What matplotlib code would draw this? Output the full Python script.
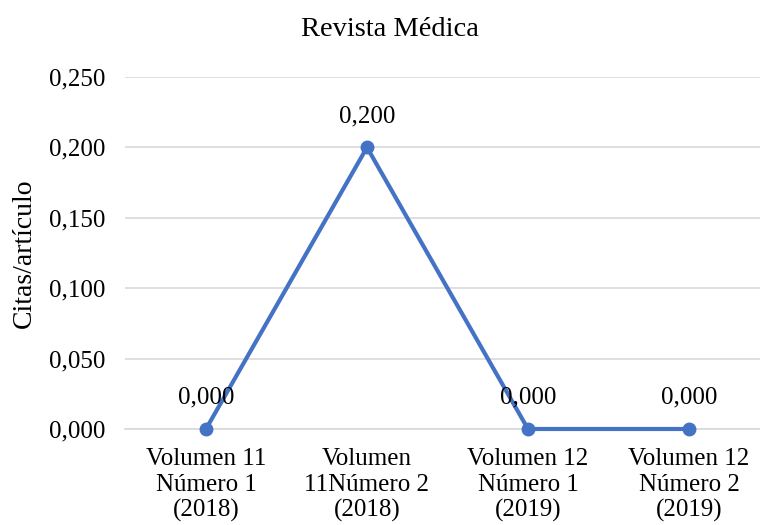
import matplotlib
matplotlib.use("Agg")
import matplotlib.pyplot as plt
from matplotlib.ticker import FuncFormatter

plt.rcParams["font.family"] = ["Liberation Serif", "DejaVu Serif"]

CATEGORIES = [
    "Volumen 11\nNúmero 1\n(2018)",
    "Volumen\n11Número 2\n(2018)",
    "Volumen 12\nNúmero 1\n(2019)",
    "Volumen 12\nNúmero 2\n(2019)",
]
VALUES = [0.000, 0.200, 0.000, 0.000]
Y_TICKS = [0.0, 0.05, 0.10, 0.15, 0.20, 0.25]

LINE_COLOR = "#4472C4"
GRID_COLOR = "#D9D9D9"
FONT_SIZE = 18


def comma_fmt(v, decimals=3):
    return f"{v:.{decimals}f}".replace(".", ",")


def main():
    fig = plt.figure(figsize=(7.6, 5.25), dpi=100)
    ax = fig.add_axes([125 / 760, 1 - 429 / 525, 635 / 760, 352 / 525])

    x = list(range(len(CATEGORIES)))
    ax.plot(x, VALUES, color=LINE_COLOR, linewidth=3, marker="o", markersize=9, zorder=3, clip_on=False)

    for xi, v in zip(x, VALUES):
        ax.annotate(comma_fmt(v), (xi, v), xytext=(0, 22.5), textcoords="offset points",
                    ha="center", va="center", fontsize=FONT_SIZE)

    ax.set_xlim(-0.503, 3.441)
    ax.set_ylim(0, 0.25)
    ax.set_yticks(Y_TICKS)
    ax.yaxis.set_major_formatter(FuncFormatter(lambda v, p: comma_fmt(v)))
    ax.set_xticks(x)
    ax.set_xticklabels(CATEGORIES, fontsize=FONT_SIZE, linespacing=1.2)
    ax.tick_params(axis="y", labelsize=FONT_SIZE, length=0, pad=14)
    ax.tick_params(axis="x", length=0, pad=14)
    ax.grid(axis="y", color=GRID_COLOR, linewidth=1.2)
    ax.set_axisbelow(True)
    for side in ("top", "right", "left"):
        ax.spines[side].set_visible(False)
    ax.spines["bottom"].set_color(GRID_COLOR)
    ax.spines["bottom"].set_linewidth(1.2)

    ax.set_ylabel("Citas/artículo", fontsize=20)
    ax.yaxis.set_label_coords(-0.139, 0.5)
    fig.text(390 / 760, 1 - 30 / 525, "Revista Médica", ha="center", va="center", fontsize=20.5)

    fig.savefig("out.png", dpi=100)
    plt.close(fig)


if __name__ == "__main__":
    main()
